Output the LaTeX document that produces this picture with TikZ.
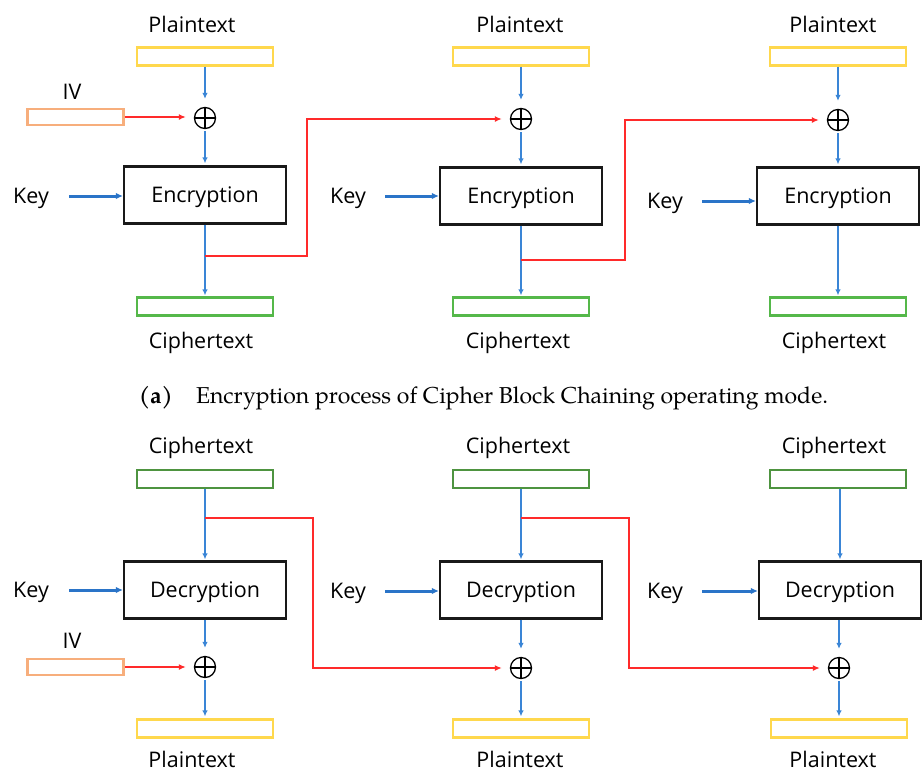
\documentclass[tikz,border=0pt]{standalone}
\usepackage{fontspec}
\usetikzlibrary{arrows.meta,calc}
\newfontfamily\labfont{Open Sans}
\newfontfamily\capfont{TeX Gyre Pagella}

\definecolor{ptyellow}{HTML}{FFD84D}
\definecolor{ivorange}{HTML}{F7AE7C}
\definecolor{ctgreenA}{HTML}{55B84A}
\definecolor{ctgreenB}{HTML}{4E9440}
\definecolor{flowblue}{HTML}{3A85D6}
\definecolor{keyblue}{HTML}{2A74C8}
\definecolor{chainred}{HTML}{FF2A2A}

\tikzset{
  lbl/.style={font=\labfont\fontsize{21.5}{24}\selectfont, inner sep=0pt, anchor=base},
  cipher/.style={draw=black!90, line width=2.2pt, minimum width=162pt, minimum height=57pt,
                 inner sep=0pt, text height=15pt, text depth=0pt, text=black,
                 font=\labfont\fontsize{21.5}{24}\selectfont},
  slot/.style={line width=2.2pt, minimum width=136pt, minimum height=18pt, inner sep=0pt},
  ptslot/.style={slot, draw=ptyellow},
  ivslot/.style={slot, draw=ivorange, minimum width=96pt, minimum height=16pt},
  ctslotA/.style={slot, draw=ctgreenA},
  ctslotB/.style={slot, draw=ctgreenB},
  xorop/.style={circle, draw, line width=1.3pt, minimum size=21pt, inner sep=0pt,
    path picture={\draw[line width=1.3pt]
      (path picture bounding box.north) -- (path picture bounding box.south)
      (path picture bounding box.west) -- (path picture bounding box.east);}},
  flow/.style={draw=flowblue, line width=1.4pt, -{Latex[length=6pt,width=5.5pt]}},
  keyflow/.style={draw=keyblue, line width=3pt, -{Latex[length=7pt,width=6.5pt]}},
  chain/.style={draw=chainred, line width=1.6pt, -{Latex[length=7pt,width=6pt]}}
}

\begin{document}
\begin{tikzpicture}[x=1pt, y=-1pt]
\useasboundingbox (0,0) rectangle (924,772);

% ---------------- (a) encryption ----------------
% column 1
\node[lbl] (ptl1) at (192,32) {Plaintext};
\node[ptslot] (pt1) at (205,56.5) {};
\node[lbl] (ivl1) at (72,99) {IV};
\node[ivslot] (iv1) at (75.5,117) {};
\node[xorop] (xa1) at (205,118) {};
\node[cipher] (en1) at (205,195) {Encryption};
\node[lbl] (key1) at (31,203) {Key};
\node[ctslotA] (ct1) at (205,306.5) {};
\node[lbl] (ctl1) at (201,348) {Ciphertext};

% column 2
\node[lbl] (ptl2) at (520,32) {Plaintext};
\node[ptslot] (pt2) at (521,56.5) {};
\node[xorop] (xa2) at (521,119) {};
\node[cipher] (en2) at (521,196) {Encryption};
\node[lbl] (key2) at (348,203) {Key};
\node[ctslotA] (ct2) at (521,306.5) {};
\node[lbl] (ctl2) at (518,348) {Ciphertext};

% column 3
\node[lbl] (ptl3) at (833,32) {Plaintext};
\node[ptslot] (pt3) at (838,56.5) {};
\node[xorop] (xa3) at (838,120) {};
\node[cipher] (en3) at (838,196) {Encryption};
\node[lbl] (key3) at (665,208) {Key};
\node[ctslotA] (ct3) at (838,306.5) {};
\node[lbl] (ctl3) at (834,348) {Ciphertext};

% key sources
\coordinate (ks1) at (69,196);
\coordinate (ks2) at (385,196);
\coordinate (ks3) at (702,201);
\draw[keyflow] (ks1) -- (ks1 -| en1.west);
\draw[keyflow] (ks2) -- (ks2 -| en2.west);
\draw[keyflow] (ks3) -- (ks3 -| en3.west);

% data path
\foreach \i in {1,2,3}{
  \draw[flow, shorten >=8pt] (pt\i.south) -- (xa\i.north);
  \draw[flow, shorten <=2pt, shorten >=2pt] (xa\i.south) -- (en\i.north);
  \draw[flow, shorten >=1pt] (en\i.south) -- (ct\i.north);
}
\draw[chain, shorten >=8pt] (iv1.east) -- (iv1.east -| xa1.west);

% chaining of ciphertext into next block
\coordinate (ta1) at (205,256);
\coordinate (ra1) at (307,256);
\coordinate (ta2) at (521,260);
\coordinate (ra2) at (625,260);
\draw[chain, shorten >=8pt] (ta1) -- (ra1) |- (xa2.west);
\draw[chain, shorten >=8pt] (ta2) -- (ra2) |- (xa3.west);

% caption
\node[font=\capfont\fontsize{23}{26}\selectfont, inner sep=0pt, anchor=base] (capa) at (483.5,403)
  {\textbf{(a)}\hspace{23pt}Encryption process of Cipher Block Chaining operating mode.};

% ---------------- (b) decryption ----------------
% column 1
\node[lbl] (ctl4) at (201,453) {Ciphertext};
\node[ctslotB] (ct4) at (205,479) {};
\node[cipher] (de1) at (205,590) {Decryption};
\node[lbl] (key4) at (31,597) {Key};
\node[lbl] (ivl2) at (72,648) {IV};
\node[ivslot] (iv2) at (75.5,667) {};
\node[xorop] (xb1) at (205,667) {};
\node[ptslot] (pt4) at (205,728.5) {};
\node[lbl] (ptl4) at (192,767) {Plaintext};

% column 2
\node[lbl] (ctl5) at (518,453) {Ciphertext};
\node[ctslotB] (ct5) at (521,479) {};
\node[cipher] (de2) at (521,590) {Decryption};
\node[lbl] (key5) at (348,598) {Key};
\node[xorop] (xb2) at (521,668) {};
\node[ptslot] (pt5) at (521,728.5) {};
\node[lbl] (ptl5) at (520,767) {Plaintext};

% column 3
\node[lbl] (ctl6) at (834,453) {Ciphertext};
\node[ctslotB] (ct6) at (838,479) {};
\node[cipher] (de3) at (840,590) {Decryption};
\node[lbl] (key6) at (665,598) {Key};
\node[xorop] (xb3) at (839,668) {};
\node[ptslot] (pt6) at (839,728.5) {};
\node[lbl] (ptl6) at (833,767) {Plaintext};

% key sources
\coordinate (ks4) at (69,590);
\coordinate (ks5) at (385,591);
\coordinate (ks6) at (702,591);
\draw[keyflow] (ks4) -- (ks4 -| de1.west);
\draw[keyflow] (ks5) -- (ks5 -| de2.west);
\draw[keyflow] (ks6) -- (ks6 -| de3.west);

% data path
\draw[flow, shorten >=1pt] (ct4.south) -- (de1.north);
\draw[flow, shorten >=1pt] (ct5.south) -- (de2.north);
\draw[flow, shorten >=1pt] (ct6.south -| de3.north) -- (de3.north);
\draw[flow, shorten >=8pt] (de1.south) -- (xb1.north);
\draw[flow, shorten >=8pt] (de2.south) -- (xb2.north);
\draw[flow, shorten >=8pt] (de3.south -| xb3.north) -- (xb3.north);
\foreach \i/\j in {1/4,2/5,3/6}{
  \draw[flow, shorten <=2pt, shorten >=2pt] (xb\i.south) -- (pt\j.north);
}
\draw[chain, shorten >=8pt] (iv2.east) -- (iv2.east -| xb1.west);

% previous ciphertext into the next XOR
\coordinate (tb1) at (205,518);
\coordinate (rb1) at (313,518);
\coordinate (tb2) at (521,518);
\coordinate (rb2) at (629,518);
\draw[chain, shorten >=8pt] (tb1) -- (rb1) |- (xb2.west);
\draw[chain, shorten >=8pt] (tb2) -- (rb2) |- (xb3.west);
\end{tikzpicture}
\end{document}
